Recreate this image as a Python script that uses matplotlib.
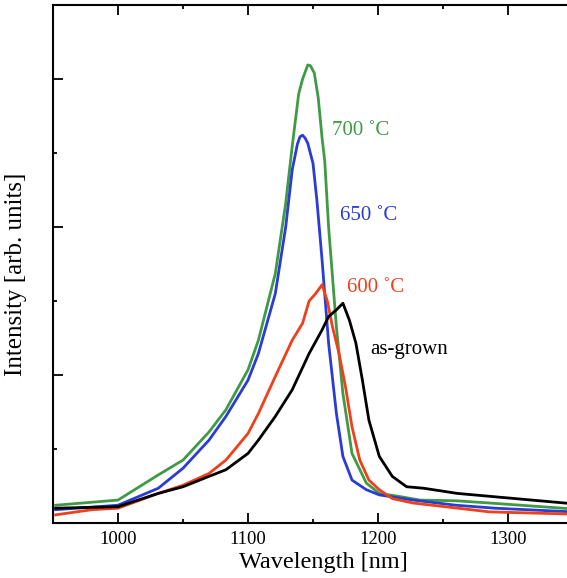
import matplotlib
matplotlib.use("Agg")
import matplotlib.pyplot as plt
from matplotlib.ticker import MultipleLocator, NullFormatter

# PL spectra (wavelength in nm, intensity in arb. units)
wl_700 = [952, 1000, 1031, 1050, 1070, 1083, 1100, 1108, 1121, 1129, 1134, 1139, 1142, 1146,
          1148, 1151, 1154, 1157, 1159, 1162, 1168, 1173, 1180, 1191, 1201, 1216, 1232, 1260,
          1286, 1350]
int_700 = [0.24, 0.31, 0.65, 0.85, 1.23, 1.53, 2.07, 2.47, 3.37, 4.32, 5.09, 5.80, 6.00, 6.19,
           6.18, 6.08, 5.75, 5.20, 4.90, 4.00, 2.65, 1.75, 0.94, 0.54, 0.40, 0.36, 0.31, 0.30,
           0.27, 0.19]

wl_650 = [952, 1000, 1031, 1050, 1070, 1083, 1100, 1108, 1121, 1129, 1134, 1138, 1140, 1142,
          1144, 1146, 1150, 1153, 1157, 1162, 1168, 1173, 1180, 1191, 1201, 1227, 1260, 1290,
          1350]
int_650 = [0.18, 0.24, 0.47, 0.74, 1.12, 1.44, 1.93, 2.29, 3.10, 4.00, 4.77, 5.12, 5.22, 5.24,
           5.20, 5.13, 4.86, 4.36, 3.55, 2.43, 1.48, 0.90, 0.58, 0.45, 0.38, 0.31, 0.24, 0.20,
           0.15]

wl_600 = [952, 980, 1000, 1031, 1050, 1070, 1083, 1100, 1108, 1121, 1134, 1142, 1147, 1152,
          1157, 1161, 1165, 1170, 1175, 1180, 1186, 1193, 1201, 1211, 1227, 1286, 1350]
int_600 = [0.11, 0.18, 0.20, 0.40, 0.51, 0.67, 0.85, 1.21, 1.48, 1.98, 2.47, 2.70, 3.00, 3.10,
           3.22, 3.00, 2.65, 2.29, 1.84, 1.30, 0.85, 0.58, 0.45, 0.33, 0.27, 0.15, 0.12]

wl_asg = [952, 1000, 1031, 1050, 1070, 1083, 1100, 1108, 1121, 1134, 1147, 1157, 1162, 1168,
          1173, 1178, 1183, 1188, 1193, 1201, 1211, 1222, 1235, 1261, 1299, 1350]
int_asg = [0.20, 0.22, 0.40, 0.49, 0.63, 0.72, 0.94, 1.12, 1.44, 1.80, 2.29, 2.61, 2.79, 2.88,
           2.97, 2.74, 2.43, 1.93, 1.39, 0.90, 0.63, 0.49, 0.47, 0.40, 0.34, 0.26]

labels = ["700 \u02daC", "650 \u02daC", "600 \u02daC", "as-grown"]
label_pos = [(1165, 5.31), (1171, 4.16), (1176, 3.18), (1194, 2.35)]
colors = ["#3f9a45", "#2a3bd6", "#f0401a", "#000000"]

plt.rcParams['font.family'] = ['Liberation Serif', 'DejaVu Serif']

fig = plt.figure(figsize=(5.67, 5.78), dpi=100)
ax = fig.add_axes([53 / 567, 1 - 523 / 578, 520 / 567, 518 / 578])

series = [(wl_700, int_700), (wl_650, int_650), (wl_600, int_600), (wl_asg, int_asg)]
for (x, y), c in zip(series, colors):
    ax.plot(x, y, color=c, lw=2.0)

for txt, (tx, ty), c in zip(labels, label_pos, colors):
    ax.text(tx, ty, txt, color=c, fontsize=15, va='center', ha='left')

ax.set_xlim(950, 1350)
ax.set_ylim(0, 7)
ax.xaxis.set_major_locator(MultipleLocator(100))
ax.xaxis.set_minor_locator(MultipleLocator(50))
ax.yaxis.set_major_locator(MultipleLocator(2))
ax.yaxis.set_minor_locator(MultipleLocator(1))
ax.yaxis.set_major_formatter(NullFormatter())
ax.tick_params(which='both', direction='in', top=True, right=False, width=1.3)
ax.tick_params(which='major', length=7, labelsize=13.5, pad=6)
ax.tick_params(which='minor', length=3)
ax.spines['right'].set_visible(False)
for s in ['left', 'bottom', 'top']:
    ax.spines[s].set_linewidth(1.5)

ax.set_xlabel('Wavelength [nm]', fontsize=17.5)
ax.xaxis.set_label_coords(0.519, -0.056)
ax.set_ylabel('Intensity [arb. units]', fontsize=18)
ax.yaxis.set_label_coords(-0.05, 0.48)

fig.savefig('out.png', dpi=100)
